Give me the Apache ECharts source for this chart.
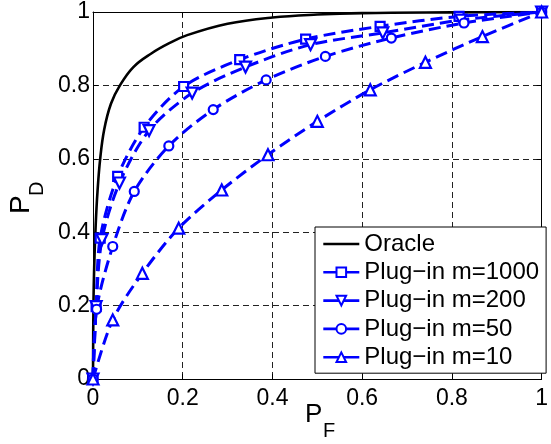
<!DOCTYPE html>
<html>
<head>
<meta charset="utf-8">
<script src="https://cdn.jsdelivr.net/npm/echarts@6/dist/echarts.min.js"></script>
<style>html,body{margin:0;padding:0;background:#fff}#c{width:551px;height:444px}</style>
</head>
<body>
<div id="c"></div>
<script>
// Tick values
const xTicks = [0, 0.2, 0.4, 0.6, 0.8, 1];
const yTicks = [0, 0.2, 0.4, 0.6, 0.8, 1];
const seriesNames = ['Oracle', 'Plug\u2212in m=1000', 'Plug\u2212in m=200', 'Plug\u2212in m=50', 'Plug\u2212in m=10'];
// [P_F, P_D] pairs
const oracle = [[0,0],[0.001,0.2],[0.003,0.32],[0.006,0.42],[0.010,0.51],[0.016,0.60],[0.025,0.68],[0.040,0.75],[0.060,0.80],[0.090,0.85],[0.130,0.887],[0.170,0.915],[0.210,0.937],[0.300,0.968],[0.400,0.985],[0.500,0.993],[0.600,0.997],[0.800,0.999],[1,1]];
const m1000 = [[0,0],[0.007,0.197],[0.016,0.384],[0.055,0.552],[0.114,0.686],[0.202,0.797],[0.327,0.870],[0.474,0.926],[0.640,0.961],[0.816,0.988],[1,1]];
const m200 = [[0,0],[0.007,0.197],[0.020,0.380],[0.059,0.534],[0.125,0.677],[0.221,0.779],[0.340,0.850],[0.485,0.911],[0.646,0.943],[0.820,0.978],[1,1]];
const m50 = [[0,0],[0.008,0.190],[0.044,0.361],[0.092,0.511],[0.169,0.635],[0.268,0.734],[0.386,0.815],[0.518,0.879],[0.665,0.929],[0.827,0.970],[1,1]];
const m10 = [[0,0],[0.044,0.161],[0.110,0.288],[0.191,0.411],[0.287,0.515],[0.390,0.611],[0.500,0.702],[0.618,0.788],[0.741,0.863],[0.868,0.933],[1,1]];

const FONT = 'Liberation Sans, Arial, sans-serif';
const BLUE = '#0000ff';

function plug(name, data, symbol, rot) {
  return {
    name: name, type: 'line', data: data, smooth: 0.3,
    symbol: symbol, symbolSize: symbol === 'triangle' ? 11 : 9, symbolRotate: rot || 0,
    showAllSymbol: true,
    lineStyle: { color: BLUE, width: 3, type: [12, 6] },
    itemStyle: { color: '#ffffff', borderColor: BLUE, borderWidth: 2.2 },
    emphasis: { disabled: true }, animation: false, z: 3
  };
}

const axisCommon = {
  type: 'value', min: 0, max: 1, interval: 0.2,
  axisLine: { show: true, onZero: false, lineStyle: { color: '#000', width: 1 } },
  axisTick: { show: true, inside: true, length: 5, lineStyle: { color: '#000' } },
  splitLine: { show: false }
};

const chart = echarts.init(document.getElementById('c'), null, { renderer: 'canvas' });
chart.setOption({
  animation: false,
  backgroundColor: '#fff',
  grid: { left: 93, right: 4, top: 12, bottom: 65 },
  xAxis: [
    Object.assign({}, axisCommon, {
      position: 'bottom',
      axisLabel: { color: '#000', fontSize: 23, fontFamily: FONT, margin: 8,
        formatter: v => xTicks.includes(+v.toFixed(1)) ? String(+v.toFixed(1)) : '' },
      splitLine: { show: true, lineStyle: { color: '#222', width: 1, type: [6, 4] } }
    }),
    Object.assign({}, axisCommon, { position: 'top', axisLabel: { show: false } })
  ],
  yAxis: [
    Object.assign({}, axisCommon, {
      position: 'left',
      axisLabel: { color: '#000', fontSize: 23, fontFamily: FONT, margin: 3,
        formatter: v => yTicks.includes(+v.toFixed(1)) ? String(+v.toFixed(1)) : '' },
      splitLine: { show: true, lineStyle: { color: '#222', width: 1, type: [6, 4] } }
    }),
    Object.assign({}, axisCommon, { position: 'right', axisLabel: { show: false } })
  ],
  legend: {
    orient: 'vertical', left: 315, top: 227,
    padding: [5, 7, 4, 7], itemGap: 4.3, itemWidth: 36, itemHeight: 12,
    backgroundColor: '#fff', borderColor: '#000', borderWidth: 1, borderRadius: 0,
    textStyle: { color: '#000', fontSize: 24, fontFamily: FONT, lineHeight: 24 },
    lineStyle: { type: 'solid', width: 2.6 },
    data: [
      { name: seriesNames[0], icon: 'path://M0,0L36,0L36,2.6L0,2.6Z', itemStyle: { color: '#000' } },
      seriesNames[1], seriesNames[2], seriesNames[3], seriesNames[4]
    ],
    selectedMode: false
  },
  graphic: [
    { type: 'text', left: 305, top: 402, style: { text: 'P', font: '26px ' + FONT, fill: '#000' } },
    { type: 'text', left: 323, top: 421, style: { text: 'F', font: '20px ' + FONT, fill: '#000' } },
    { type: 'text', x: 7, y: 214, rotation: Math.PI / 2, style: { text: 'P', font: '28px ' + FONT, fill: '#000' } },
    { type: 'text', x: 27, y: 196, rotation: Math.PI / 2, style: { text: 'D', font: '20px ' + FONT, fill: '#000' } }
  ],
  series: [
    {
      name: seriesNames[0], type: 'line', data: oracle, smooth: 0.4,
      showSymbol: false, symbol: 'none',
      lineStyle: { color: '#000', width: 2.6, type: 'solid' },
      itemStyle: { color: '#000' }, emphasis: { disabled: true }, z: 2
    },
    plug(seriesNames[1], m1000, 'rect'),
    plug(seriesNames[2], m200, 'triangle', 180),
    plug(seriesNames[3], m50, 'circle'),
    plug(seriesNames[4], m10, 'triangle')
  ]
});
</script>
</body>
</html>
